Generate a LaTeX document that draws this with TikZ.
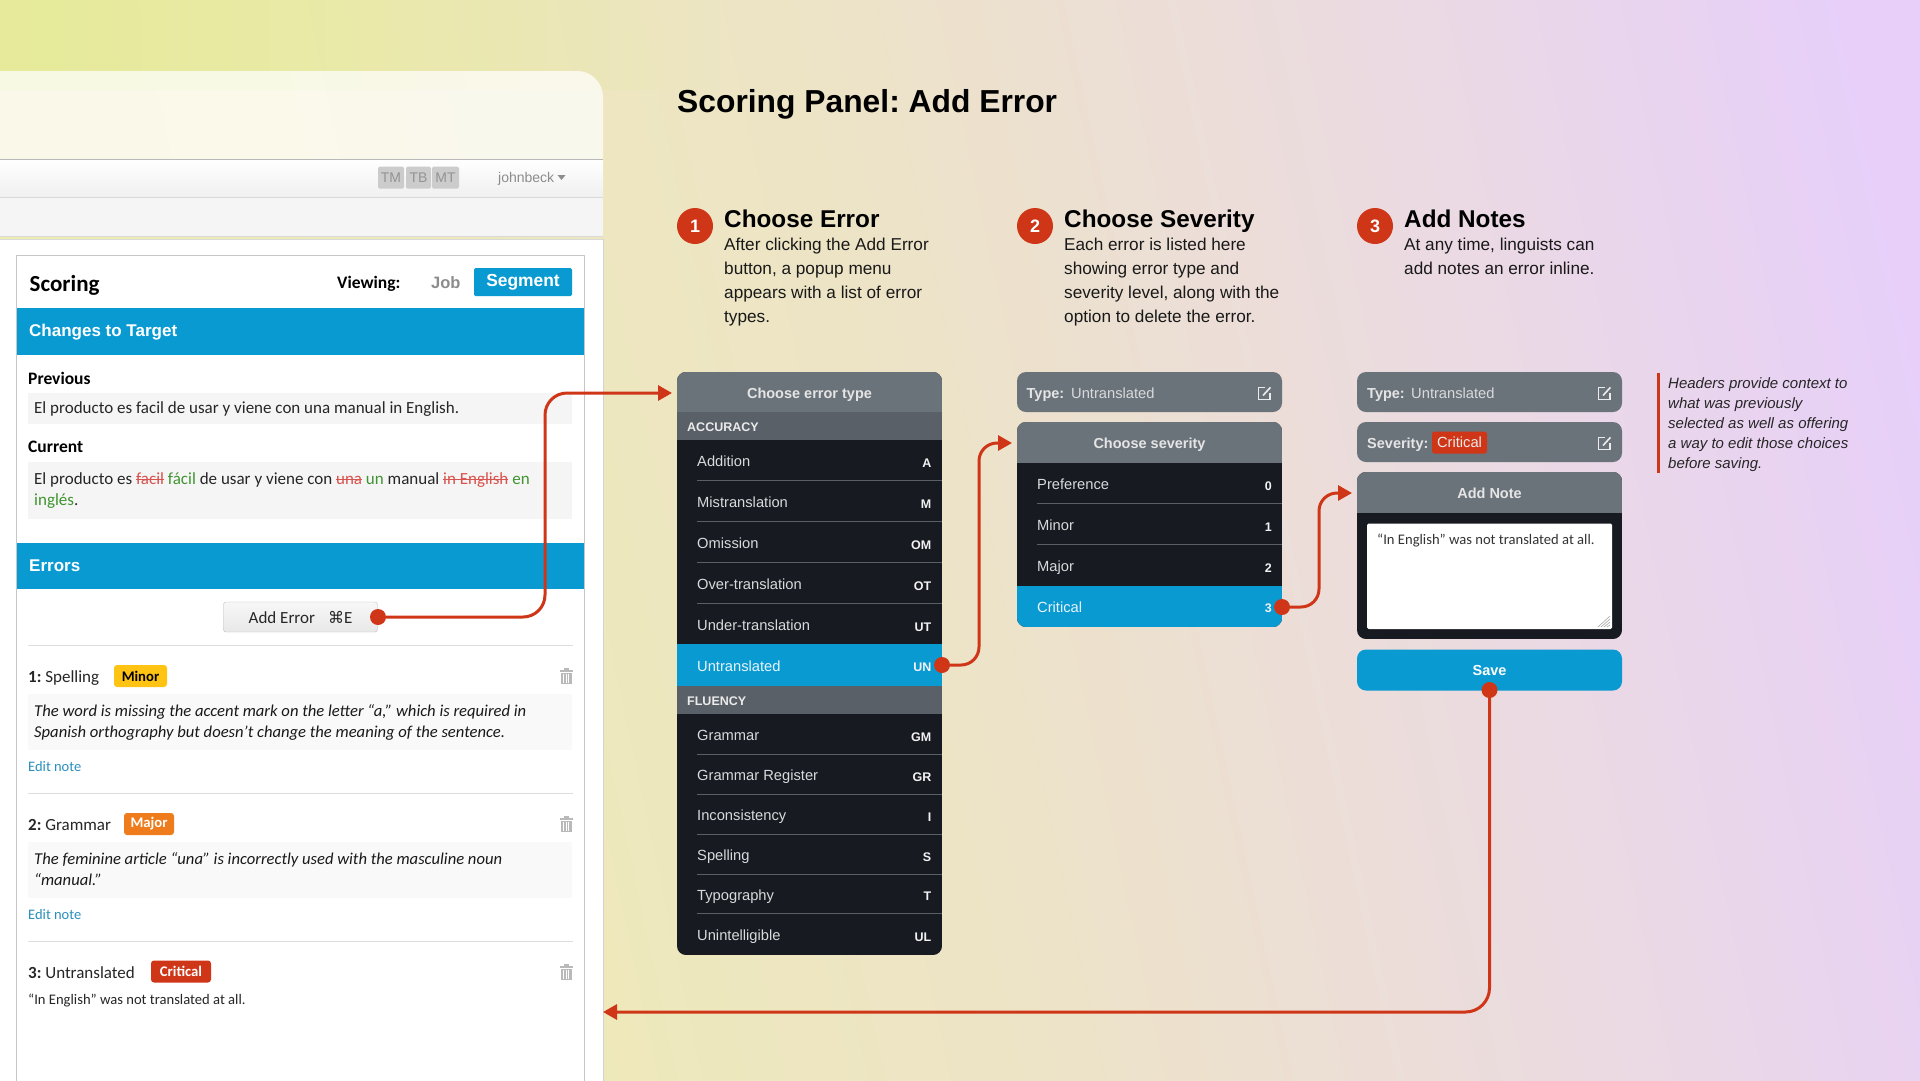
\documentclass[tikz,border=0pt]{standalone}
\usepackage{fontspec}
\usepackage{xcolor}
\usetikzlibrary{arrows.meta,positioning,fadings}
\setmainfont{Liberation Sans}
\newfontfamily\panelfont{Carlito}
\newfontfamily\markfont{DejaVu Sans}
\frenchspacing
\definecolor{linkred}{HTML}{CF3617}
\definecolor{selblue}{HTML}{0A9AD2}
\definecolor{headgray}{HTML}{6B737A}
\definecolor{bandgray}{HTML}{5A6068}
\definecolor{menudark}{HTML}{171A21}
\definecolor{menuline}{HTML}{5A5F66}
\definecolor{menutext}{HTML}{D8DADC}
\definecolor{softgray}{HTML}{F5F5F5}
\definecolor{ruleline}{HTML}{DDDDDD}
\definecolor{delred}{HTML}{D9534F}
\definecolor{addgreen}{HTML}{3F9430}
\definecolor{noteblue}{HTML}{2A8FBD}
\definecolor{minorgold}{HTML}{FFC314}
\definecolor{majororange}{HTML}{EE7B1C}
\definecolor{walla}{HTML}{E6EA9A}
\definecolor{wallb}{HTML}{EEEDB0}
\definecolor{wallc}{HTML}{EDE3C8}
\definecolor{walld}{HTML}{EBDAE2}
\definecolor{walle}{HTML}{E7CFFA}
\pgfdeclarehorizontalshading{wallfade}{100bp}{color(0bp)=(wallb);color(27bp)=(wallb);color(50bp)=(wallc);color(65bp)=(walld);color(78bp)=(walle);color(100bp)=(walle)}
\newcommand{\strk}[1]{\textcolor{delred}{\setbox0\hbox{#1}\rlap{\rule[.27em]{\wd0}{.8pt}}\box0}}
\newcommand{\binmark}[2]{%
  \fill[gray!55] (#1+4,#2) rectangle (#1+9,#2+1.5);
  \fill[gray!55] (#1,#2+1.5) rectangle (#1+13,#2+3.5);
  \fill[gray!55] (#1+1,#2+4.5) rectangle (#1+12,#2+16);
  \draw[white,line width=.7pt] (#1+3.8,#2+6) -- (#1+3.8,#2+15) (#1+6.5,#2+6) -- (#1+6.5,#2+15) (#1+9.2,#2+6) -- (#1+9.2,#2+15);}
\newcommand{\editmark}[2]{%
  \draw[white!85!gray,line width=1.4pt] (#1+7,#2+1) -- (#1+.7,#2+1) -- (#1+.7,#2+13) -- (#1+12,#2+13) -- (#1+12,#2+6);
  \draw[white!85!gray,line width=1.6pt] (#1+5,#2+9) -- (#1+12.5,#2+.8);}

\begin{document}
\begin{tikzpicture}[x=1pt,y=-1pt]
  \tikzstyle{txt} = [anchor=base west,inner sep=0pt]
  \tikzstyle{body} = [txt,font=\panelfont\fontsize{17}{21}\selectfont,text=black!85]
  \tikzstyle{boldbody} = [txt,font=\panelfont\bfseries\fontsize{17.5}{21}\selectfont,text=black]
  \tikzstyle{note} = [txt,font=\panelfont\itshape\fontsize{16.6}{21}\selectfont,text=black!90]
  \tikzstyle{edit} = [txt,font=\panelfont\fontsize{14.5}{18}\selectfont,text=noteblue]
  \tikzstyle{band} = [txt,font=\bfseries\fontsize{17}{20}\selectfont,text=white]
  \tikzstyle{badge} = [rectangle,rounded corners=3pt,inner sep=0pt,minimum height=22pt,font=\panelfont\bfseries\fontsize{14.7}{18}\selectfont]
  \tikzstyle{tool} = [rectangle,fill=gray!40,rounded corners=1.5pt,inner sep=0pt,minimum height=22pt,font=\fontsize{14}{16}\selectfont,text=gray!85]
  \tikzstyle{stepdot} = [circle,fill=linkred,inner sep=0pt,minimum size=36pt,text=white,font=\bfseries\fontsize{18}{20}\selectfont]
  \tikzstyle{stephead} = [txt,font=\bfseries\fontsize{24.3}{30}\selectfont,text=black]
  \tikzstyle{stepbody} = [anchor=north west,inner sep=0pt,align=left,font=\fontsize{17.2}{24}\selectfont,text=black!90]
  \tikzstyle{menuhead} = [inner sep=0pt,font=\bfseries\fontsize{14.5}{18}\selectfont,text=white!90!black]
  \tikzstyle{section} = [txt,font=\bfseries\fontsize{12.5}{15}\selectfont,text=white!92!black]
  \tikzstyle{item} = [txt,font=\fontsize{14.7}{18}\selectfont,text=menutext]
  \tikzstyle{code} = [anchor=base east,inner sep=0pt,font=\bfseries\fontsize{12.5}{15}\selectfont,text=white!95!black]
  \tikzstyle{hit} = [circle,fill=linkred,inner sep=0pt,minimum size=16pt]
  \tikzstyle{line} = [draw=linkred,line width=3pt,rounded corners=22pt,-{Triangle[length=14pt,width=15pt]}]
  \tikzstyle{divider} = [draw=ruleline,line width=1pt]
  \tikzstyle{rowline} = [draw=menuline,line width=1pt]

  \useasboundingbox (0,0) rectangle (1920,1080);
  \shade[shading=wallfade,shading angle=12] (0,0) rectangle (1920,1080);
  \fill[walla,path fading=east] (0,0) rectangle (720,90);

  % left panel
  \fill[white,opacity=.72] (0,159) -- (0,71) [rounded corners=26pt] -- (603,71) [sharp corners] -- (603,159) -- cycle;
  \shade[top color=white,bottom color=gray!12] (0,159) rectangle (603,197);
  \fill[softgray] (0,197) rectangle (603,236);
  \fill[white] (-5,239) rectangle (603,1085);
  \draw[gray!55,line width=1pt] (0,159) -- (603,159);
  \draw[gray!30,line width=1pt] (0,197) -- (603,197);
  \draw[gray!30,line width=1pt] (0,236) -- (603,236);
  \draw[gray!30,line width=1pt] (0,239) -- (603,239);
  \draw[gray!35,line width=1pt] (603,239) -- (603,1085);
  \node [tool,minimum width=26pt] (tm) at (391,177.5) {TM};
  \node [tool,minimum width=25pt] (tb) at (418.5,177.5) {TB};
  \node [tool,minimum width=27pt] (mt) at (445.5,177.5) {MT};
  \node [txt,font=\fontsize{14}{16}\selectfont,text=gray!90] (user) at (498,182.5) {johnbeck};
  \fill[gray!90] (557.5,175) -- (565.5,175) -- (561.5,180) -- cycle;
  \draw[gray!45,line width=1pt] (16.5,1085) -- (16.5,255.5) -- (584.5,255.5) -- (584.5,1085);

  \node [txt,font=\panelfont\bfseries\fontsize{23}{26}\selectfont,text=black] (scoring) at (29.5,291) {Scoring};
  \node [boldbody] (viewing) at (337,288.5) {Viewing:};
  \node [txt,font=\bfseries\fontsize{16.5}{20}\selectfont,text=gray!90] (job) at (431,288.5) {Job};
  \node [rectangle,fill=selblue,rounded corners=1.5pt,inner sep=0pt,minimum width=98pt,minimum height=28pt,font=\bfseries\fontsize{17.4}{20}\selectfont,text=white] (segment) at (523,282) {\raisebox{-3pt}{Segment}};

  \fill[selblue] (17,308) rectangle (584,355);
  \node [band] (changes) at (29,336.5) {Changes to Target};
  \node [boldbody] (previous) at (28,384) {Previous};
  \fill[softgray] (28,393) rectangle (572,424);
  \node [body] (prevtext) at (34,413.5) {El producto es facil de usar y viene con una manual in English.};
  \node [boldbody] (current) at (28,452.5) {Current};
  \fill[softgray] (28,462) rectangle (572,519);
  \node [body] (curtext) at (34,484) {El producto es \strk{facil} \textcolor{addgreen}{fácil} de usar y viene con \strk{una} \textcolor{addgreen}{un} manual \strk{in English} \textcolor{addgreen}{en}};
  \node [body] (curtext2) at (34,505) {\textcolor{addgreen}{inglés}.};

  \fill[selblue] (17,543) rectangle (584,589);
  \node [band] (errors) at (29,571.5) {Errors};
  \node [rectangle,draw=gray!50,top color=gray!6,bottom color=gray!18,rounded corners=2.5pt,inner sep=0pt,minimum width=154pt,minimum height=30pt,font=\panelfont\fontsize{17}{21}\selectfont,text=black!85] (adderror) at (300.5,617) {Add Error\hspace{13pt}{\markfont\fontsize{16}{18}\selectfont ⌘}E};
  \draw[divider] (28,645.5) -- (573,645.5);

  \node [body] (err1) at (28,682.5) {\textbf{1:} Spelling};
  \node [badge,fill=minorgold,text=black,minimum width=53pt] (minor) at (140.5,676) {Minor};
  \binmark{559.5}{668}
  \fill[black!2.5] (28,694) rectangle (572,750);
  \node [note] (note1a) at (34,716.5) {The word is missing the accent mark on the letter “a,” which is required in};
  \node [note] (note1b) at (34,737.5) {Spanish orthography but doesn’t change the meaning of the sentence.};
  \node [edit] (edit1) at (28,771.5) {Edit note};
  \draw[divider] (28,793) -- (573,793);

  \node [body] (err2) at (28,830.5) {\textbf{2:} Grammar};
  \node [badge,fill=majororange,text=white,minimum width=50pt] (major) at (149,824) {Major};
  \binmark{559.5}{816}
  \fill[black!2.5] (28,842) rectangle (572,898);
  \node [note] (note2a) at (34,864) {The feminine article “una” is incorrectly used with the masculine noun};
  \node [note] (note2b) at (34,885) {“manual.”};
  \node [edit] (edit2) at (28,919.5) {Edit note};
  \draw[divider] (28,941) -- (573,941);

  \node [body] (err3) at (28,978.5) {\textbf{3:} Untranslated};
  \node [badge,fill=linkred,text=white,minimum width=60pt] (critical) at (181,971.5) {Critical};
  \binmark{559.5}{964}
  \node [txt,font=\panelfont\fontsize{14.6}{18}\selectfont,text=black!85] (note3) at (28,1004.5) {“In English” was not translated at all.};

  % title and steps
  \node [txt,font=\bfseries\fontsize{31.8}{38}\selectfont,text=black] (title) at (677,112.5) {Scoring Panel: Add Error};
  \node [stepdot] (s1) at (695,226) {1};
  \node [stephead] (h1) at (724,227.5) {Choose Error};
  \node [stepbody] (b1) at (724,237.5) {After clicking the Add Error\\button, a popup menu\\appears with a list of error\\types.};
  \node [stepdot] (s2) at (1035,226) {2};
  \node [stephead] (h2) at (1064,227.5) {Choose Severity};
  \node [stepbody] (b2) at (1064,237.5) {Each error is listed here\\showing error type and\\severity level, along with the\\option to delete the error.};
  \node [stepdot] (s3) at (1375,226) {3};
  \node [stephead] (h3) at (1404,227.5) {Add Notes};
  \node [stepbody] (b3) at (1404,237.5) {At any time, linguists can\\add notes an error inline.};

  % error type menu
  \begin{scope}
    \clip [rounded corners=9pt] (677,372) rectangle (942,955);
    \fill[menudark] (677,372) rectangle (942,955);
    \fill[headgray] (677,372) rectangle (942,412);
    \fill[bandgray] (677,412) rectangle (942,440);
    \fill[selblue] (677,644) rectangle (942,686);
    \fill[bandgray] (677,686) rectangle (942,714);
  \end{scope}
  \node [menuhead] (typehead) at (809.5,395) {Choose error type};
  \node [section] (accuracy) at (687,431) {ACCURACY};
  \node [item] (addition) at (697,466.5) {Addition};
  \node [code] (ca) at (931.5,467) {A};
  \draw[rowline] (697,480.5) -- (942,480.5);
  \node [item] (mistrans) at (697,507.5) {Mistranslation};
  \node [code] (cm) at (931.5,508) {M};
  \draw[rowline] (697,521.5) -- (942,521.5);
  \node [item] (omission) at (697,548.5) {Omission};
  \node [code] (com) at (931.5,549) {OM};
  \draw[rowline] (697,562.5) -- (942,562.5);
  \node [item] (overtrans) at (697,589.5) {Over-translation};
  \node [code] (cot) at (931.5,590) {OT};
  \draw[rowline] (697,603.5) -- (942,603.5);
  \node [item] (undertrans) at (697,630.5) {Under-translation};
  \node [code] (cut) at (931.5,631) {UT};
  \node [item,text=white!90!selblue] (untrans) at (697,671.5) {Untranslated};
  \node [code] (cun) at (931.5,671.5) {UN};
  \node [section] (fluency) at (687,705) {FLUENCY};
  \node [item] (grammar) at (697,740.5) {Grammar};
  \node [code] (cgm) at (931.5,741) {GM};
  \draw[rowline] (697,754.5) -- (942,754.5);
  \node [item] (register) at (697,780.5) {Grammar Register};
  \node [code] (cgr) at (931.5,781) {GR};
  \draw[rowline] (697,794.5) -- (942,794.5);
  \node [item] (inconsist) at (697,820.5) {Inconsistency};
  \node [code] (ci) at (931.5,821) {I};
  \draw[rowline] (697,834.5) -- (942,834.5);
  \node [item] (spelling) at (697,860.5) {Spelling};
  \node [code] (cs) at (931.5,861) {S};
  \draw[rowline] (697,874.5) -- (942,874.5);
  \node [item] (typography) at (697,900) {Typography};
  \node [code] (ct) at (931.5,900.5) {T};
  \draw[rowline] (697,913.5) -- (942,913.5);
  \node [item] (unintel) at (697,940.5) {Unintelligible};
  \node [code] (cul) at (931.5,941) {UL};

  % severity menu
  \fill[headgray,rounded corners=9pt] (1017,372) rectangle (1282,412);
  \node [txt,font=\bfseries\fontsize{14.5}{18}\selectfont,text=white!90!black] (typea) at (1026.5,398) {Type:};
  \node [item] (typeaval) at (1071,398) {Untranslated};
  \editmark{1258}{386.5}
  \begin{scope}
    \clip [rounded corners=9pt] (1017,422) rectangle (1282,627);
    \fill[menudark] (1017,422) rectangle (1282,627);
    \fill[headgray] (1017,422) rectangle (1282,463);
    \fill[selblue] (1017,586) rectangle (1282,627);
  \end{scope}
  \node [menuhead] (sevhead) at (1149.5,445) {Choose severity};
  \node [item] (preference) at (1037,489) {Preference};
  \node [code] (c0) at (1272,490) {0};
  \draw[rowline] (1037,503.5) -- (1282,503.5);
  \node [item] (sevminor) at (1037,530.5) {Minor};
  \node [code] (c1) at (1272,531) {1};
  \draw[rowline] (1037,544.5) -- (1282,544.5);
  \node [item] (sevmajor) at (1037,571.5) {Major};
  \node [code] (c2) at (1272,572) {2};
  \node [item,text=white!90!selblue] (sevcrit) at (1037,612) {Critical};
  \node [code] (c3) at (1272,612.5) {3};

  % notes menu
  \fill[headgray,rounded corners=9pt] (1357,372) rectangle (1622,412);
  \node [txt,font=\bfseries\fontsize{14.5}{18}\selectfont,text=white!90!black] (typeb) at (1367,398) {Type:};
  \node [item] (typebval) at (1411,398) {Untranslated};
  \editmark{1598}{386.5}
  \fill[headgray,rounded corners=9pt] (1357,422) rectangle (1622,462);
  \node [txt,font=\bfseries\fontsize{14.5}{18}\selectfont,text=white!90!black] (sevb) at (1367,448) {Severity:};
  \node [rectangle,fill=linkred,rounded corners=2.5pt,inner sep=0pt,minimum width=55pt,minimum height=22pt,font=\fontsize{14.7}{18}\selectfont,text=white!92!black] (sevbval) at (1459.5,442.5) {\raisebox{-3pt}{Critical}};
  \editmark{1598}{436.5}
  \begin{scope}
    \clip [rounded corners=9pt] (1357,472) rectangle (1622,639);
    \fill[menudark] (1357,472) rectangle (1622,639);
    \fill[headgray] (1357,472) rectangle (1622,513);
  \end{scope}
  \node [menuhead] (notehead) at (1489.5,493) {Add Note};
  \fill[white,rounded corners=1.5pt] (1367,523.5) rectangle (1612,629);
  \node [txt,font=\panelfont\fontsize{14.6}{18}\selectfont,text=black!80] (notetext) at (1377,544) {“In English” was not translated at all.};
  \draw[gray!70,line width=.6pt] (1598,627) -- (1610,616) (1601,627) -- (1610,619) (1604,627) -- (1610,622) (1607,627) -- (1610,625);
  \node [rectangle,fill=selblue,rounded corners=9pt,inner sep=0pt,minimum width=265pt,minimum height=41pt,font=\bfseries\fontsize{14.5}{18}\selectfont,text=white] (save) at (1489.5,670) {Save};

  % side remark
  \fill[linkred] (1657,373) rectangle (1660,473);
  \node [txt,font=\itshape\fontsize{15}{18}\selectfont,text=black!85] (r1) at (1668,388.5) {Headers provide context to};
  \node [txt,font=\itshape\fontsize{15}{18}\selectfont,text=black!85] (r2) at (1668,408.5) {what was previously};
  \node [txt,font=\itshape\fontsize{15}{18}\selectfont,text=black!85] (r3) at (1668,428.5) {selected as well as offering};
  \node [txt,font=\itshape\fontsize{15}{18}\selectfont,text=black!85] (r4) at (1668,448.5) {a way to edit those choices};
  \node [txt,font=\itshape\fontsize{15}{18}\selectfont,text=black!85] (r5) at (1668,468.5) {before saving.};

  % connectors
  \node [hit] (hitadd) at (378,617) {};
  \node [hit] (hittype) at (942,665) {};
  \node [hit] (hitsev) at (1282,607) {};
  \node [hit] (hitsave) at (1489.5,690) {};
  \coordinate (intype) at (672,393);
  \coordinate (bendtype) at (545,393);
  \coordinate (insev) at (1012,443);
  \coordinate (bendsev) at (979,443);
  \coordinate (innote) at (1352,493);
  \coordinate (bendnote) at (1319,493);
  \coordinate (inpanel) at (603,1012);
  \coordinate (bendpanel) at (1489.5,1012);
  \path [line] (hitadd) -| (bendtype) -- (intype);
  \path [line,rounded corners=18pt] (hittype) -| (bendsev) -- (insev);
  \path [line,rounded corners=18pt] (hitsev) -| (bendnote) -- (innote);
  \path [line,rounded corners=24pt] (hitsave) -- (bendpanel) -- (inpanel);
\end{tikzpicture}
\end{document}
